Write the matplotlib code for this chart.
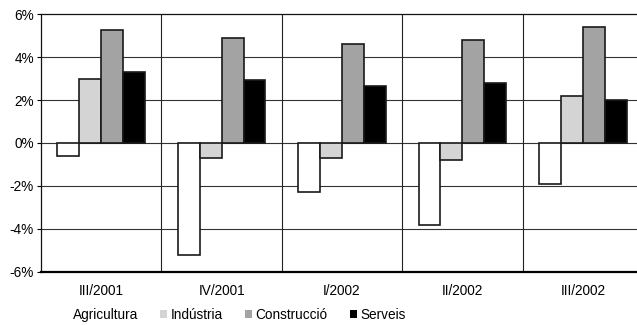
import matplotlib.pyplot as plt
import numpy as np
from matplotlib.patches import Patch

plt.rcParams['font.family'] = ['Liberation Sans', 'DejaVu Sans']

quarters = ['III/2001', 'IV/2001', 'I/2002', 'II/2002', 'III/2002']
sectors = ['Agricultura', 'Indústria', 'Construcció', 'Serveis']
agricultura = [-0.6, -5.2, -2.3, -3.8, -1.9]
industria = [3.0, -0.7, -0.7, -0.8, 2.2]
construccio = [5.25, 4.9, 4.6, 4.8, 5.4]
serveis = [3.3, 2.95, 2.65, 2.8, 2.0]
colors = ['white', '#d4d4d4', '#a3a3a3', 'black']

series = [agricultura, industria, construccio, serveis]

fig = plt.figure(figsize=(6.37, 3.25), dpi=100)
# axes runs past the right edge of the figure, as in the original
ax = fig.add_axes([41 / 637, 0.164, 602 / 637, 0.792])

x = np.arange(len(quarters))
w = 0.182
for i, vals in enumerate(series):
    ax.bar(x + (i - 1.5) * w, vals, w, color=colors[i], edgecolor='#1a1a1a',
           linewidth=1.2, zorder=3)

for yv in [-4, -2, 0, 2, 4]:
    ax.axhline(yv, color='#333333', lw=0.8, zorder=1)
for xv in [0.5, 1.5, 2.5, 3.5]:
    ax.axvline(xv, color='#222222', lw=0.8, zorder=1)

ax.set_xlim(-0.5, 4.5)
ax.set_ylim(-6, 6)
ax.set_yticks(np.arange(-6, 7, 2))
ax.set_yticklabels(['%d%%' % v for v in np.arange(-6, 7, 2)])
ax.set_xticks(x)
ax.set_xticklabels(quarters)
ax.tick_params(axis='x', length=0, pad=9, labelsize=9.8)
ax.tick_params(axis='y', length=3, width=0.8, pad=2, labelsize=9.8)

for s in ['left', 'top']:
    ax.spines[s].set_linewidth(0.9)
    ax.spines[s].set_color('#111111')
ax.spines['bottom'].set_linewidth(1.6)
ax.spines['right'].set_visible(False)

handles = [Patch(facecolor=c, edgecolor='none') for c in colors]
fig.legend(handles, sectors, loc='center left', bbox_to_anchor=(0.097, 0.031),
           ncol=4, frameon=False, fontsize=9.8, handlelength=0.55,
           handleheight=0.55, handletextpad=0.25, columnspacing=1.6,
           borderpad=0, borderaxespad=0)

fig.savefig('out.png', dpi=100)
plt.close()
